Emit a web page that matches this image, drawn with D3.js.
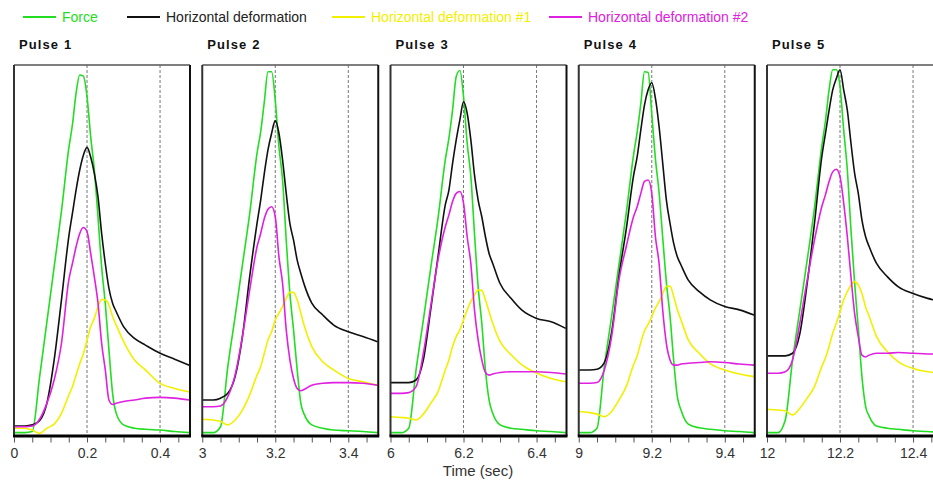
<!DOCTYPE html>
<html>
<head>
<meta charset="utf-8">
<script src="https://cdn.jsdelivr.net/npm/d3@7"></script>
<style>
  body { margin: 0; background: #fff; }
  svg { display: block; font-family: "Liberation Sans", Arial, sans-serif; }
  .legend text { font-size: 14px; }
  .pulse-title { font-size: 13px; font-weight: bold; letter-spacing: 1.1px; fill: #111; }
  .x-axis text { font-size: 14px; fill: #333; font-family: "Liberation Sans", Arial, sans-serif; }
  .x-axis line { stroke: #555; }
</style>
</head>
<body>
<svg id="chart"></svg>
<script>
//Chart Data (values in % of panel height, time in sec after pulse start)
const seriesNames = ["Force", "Horizontal deformation", "Horizontal deformation #1", "Horizontal deformation #2"];
const seriesColors = ["#22dd22", "#111111", "#f2f000", "#e020e0"];
const pulseNames = ["Pulse 1", "Pulse 2", "Pulse 3", "Pulse 4", "Pulse 5"];
const pulseStarts = [0, 3, 6, 9, 12];

const timeOffsets = [0, 0.03, 0.05, 0.07, 0.09, 0.11, 0.13, 0.15, 0.16, 0.17, 0.18, 0.19, 0.20, 0.21,
                     0.22, 0.23, 0.24, 0.25, 0.26, 0.27, 0.28, 0.30, 0.33, 0.36, 0.40, 0.44, 0.48];

const forceValues = [
  [0.9, 0.9, 1.2, 15.8, 30.7, 45.6, 60.6, 77.5, 83.9, 92.4, 97.3, 97.0, 91.5, 80.7, 71.7, 59.1, 45.6, 35.7, 23.2, 11.5, 6.1, 3.0, 2.1, 1.8, 1.6, 1.2, 0.9],
  [0.9, 0.9, 2.5, 18.7, 32.2, 46.1, 60.0, 76.2, 82.0, 90.1, 98.2, 98.2, 90.5, 77.9, 69.0, 52.8, 38.5, 28.6, 17.8, 8.8, 5.7, 3.0, 2.1, 1.6, 1.4, 1.2, 0.9],
  [0.9, 0.9, 2.1, 17.8, 31.3, 45.2, 58.6, 74.4, 80.3, 87.9, 96.9, 98.5, 91.5, 78.9, 70.0, 54.6, 40.2, 30.4, 17.8, 9.7, 6.1, 3.0, 2.1, 1.8, 1.4, 1.2, 0.9],
  [0.9, 0.9, 2.1, 18.7, 32.2, 46.1, 60.0, 75.7, 82.0, 89.6, 98.2, 98.0, 86.7, 74.7, 65.6, 53.4, 41.4, 32.3, 20.3, 10.6, 7.0, 3.2, 2.2, 1.8, 1.4, 1.2, 0.9],
  [0.9, 0.9, 4.3, 20.5, 34.0, 47.4, 61.5, 78.1, 84.9, 93.3, 98.7, 98.7, 94.2, 82.5, 71.7, 55.5, 41.2, 29.0, 16.0, 8.0, 5.3, 2.7, 2.1, 1.8, 1.4, 1.2, 0.9]
];

const hDefValues = [
  [2.7, 2.7, 3.0, 4.1, 8.8, 20.5, 36.7, 53.7, 60.0, 66.3, 71.7, 75.7, 77.8, 75.2, 70.8, 64.5, 54.6, 46.5, 39.8, 35.8, 33.5, 29.5, 26.3, 24.5, 22.3, 20.7, 19.1],
  [9.7, 9.7, 10.2, 11.5, 16.0, 26.8, 43.0, 57.3, 63.6, 70.8, 77.1, 81.6, 85.0, 81.6, 74.4, 65.4, 57.3, 52.8, 47.4, 43.8, 40.6, 35.8, 32.6, 29.9, 28.1, 26.8, 25.4],
  [14.4, 14.4, 14.4, 15.1, 20.5, 34.0, 48.3, 62.3, 66.3, 73.5, 79.8, 85.2, 90.1, 87.0, 79.8, 70.4, 63.6, 59.1, 53.7, 49.2, 46.5, 41.1, 37.1, 33.9, 31.7, 30.8, 29.0],
  [17.8, 17.8, 18.0, 19.8, 27.9, 43.1, 55.7, 70.1, 75.3, 82.5, 89.2, 93.3, 95.2, 91.0, 83.4, 73.5, 63.6, 57.3, 51.9, 48.3, 46.1, 42.0, 38.9, 36.7, 34.9, 34.0, 32.6],
  [21.6, 21.6, 21.6, 22.3, 27.6, 41.1, 57.3, 75.2, 81.5, 87.8, 93.3, 96.4, 98.7, 93.3, 87.8, 78.9, 70.8, 65.4, 58.2, 53.7, 51.0, 46.5, 42.9, 40.2, 38.4, 37.1, 36.2]
];

const hDef1Values = [
  [2.1, 2.1, 1.6, 0.7, 2.1, 3.2, 6.1, 11.0, 13.3, 16.4, 19.5, 22.2, 25.8, 29.5, 31.7, 34.8, 36.8, 36.7, 35.3, 32.2, 29.9, 25.5, 20.5, 17.8, 14.2, 12.8, 11.9],
  [4.5, 4.3, 3.9, 3.0, 4.3, 7.0, 11.1, 16.4, 18.7, 22.3, 25.9, 28.1, 31.3, 33.1, 34.9, 37.1, 38.7, 38.7, 36.7, 33.1, 29.5, 24.1, 20.0, 17.8, 15.5, 14.6, 13.7],
  [5.2, 5.0, 4.8, 4.3, 5.9, 8.8, 11.9, 17.8, 20.5, 24.1, 26.8, 28.6, 31.3, 34.0, 36.2, 38.0, 39.4, 39.2, 36.7, 33.5, 30.4, 25.5, 21.9, 19.2, 17.0, 15.5, 14.6],
  [6.6, 6.3, 5.9, 5.2, 6.6, 9.7, 13.3, 19.2, 21.6, 25.2, 28.3, 30.1, 32.2, 34.5, 36.2, 38.5, 40.3, 40.4, 37.6, 34.0, 31.3, 25.9, 22.3, 19.5, 17.8, 16.7, 16.0],
  [7.2, 7.0, 6.8, 5.7, 7.5, 10.2, 13.3, 18.7, 21.0, 24.1, 27.7, 30.4, 33.5, 36.7, 38.9, 40.7, 41.6, 40.7, 38.4, 34.8, 32.2, 26.8, 22.7, 20.0, 18.2, 17.3, 16.9]
];

const hDef2Values = [
  [2.5, 2.5, 2.7, 4.5, 8.8, 15.1, 25.0, 42.0, 46.5, 51.0, 54.6, 56.2, 55.1, 49.2, 42.9, 35.8, 25.0, 17.8, 9.7, 8.5, 8.8, 9.3, 9.7, 10.2, 10.4, 10.2, 9.7],
  [7.9, 7.9, 8.1, 10.6, 16.4, 26.8, 39.4, 51.0, 54.6, 58.6, 61.1, 61.8, 59.1, 48.3, 41.1, 28.6, 20.5, 15.5, 12.8, 12.2, 12.6, 13.7, 14.2, 14.4, 14.4, 14.2, 13.7],
  [11.5, 11.5, 11.7, 13.3, 22.3, 34.9, 47.4, 56.4, 59.6, 63.2, 65.4, 65.9, 62.8, 53.7, 46.5, 34.0, 25.9, 20.5, 17.1, 16.4, 16.7, 17.1, 17.3, 17.3, 17.3, 17.1, 16.7],
  [14.2, 14.2, 14.4, 17.8, 26.8, 42.0, 51.0, 59.1, 61.8, 65.4, 68.6, 69.0, 65.4, 53.7, 46.5, 33.9, 24.9, 20.5, 19.1, 19.1, 19.4, 19.6, 19.8, 20.0, 19.8, 19.4, 19.1],
  [16.9, 16.9, 17.3, 20.5, 30.4, 42.0, 52.8, 61.8, 65.0, 68.6, 71.2, 71.9, 69.9, 62.8, 53.7, 42.9, 33.0, 26.8, 21.8, 21.3, 21.8, 22.3, 22.3, 22.5, 22.3, 22.1, 22.1]
];

const seriesValues = [forceValues, hDefValues, hDef1Values, hDef2Values];

//Layout Setup
const w = 933;
const h = 481;
const plotTop = 65;
const plotBottom = 436;
const panelW = 176;
const panelSpan = 0.482; //seconds visible in each panel

const chart = d3.select("#chart")
  .attr("width", w)
  .attr("height", h);

//Scale Setup
const panelX = d3.scaleLinear()
                 .domain([0, pulseStarts.length - 1])
                 .range([14, 767]);
const yScale = d3.scaleLinear()
                 .domain([0, 100])
                 .range([plotBottom, plotTop]);

//Legend Setup
const legendX = [23, 127, 332, 549];
const legend = chart.append("g").attr("class", "legend");
seriesNames.forEach((name, i) => {
  legend.append("line")
        .attr("x1", legendX[i]).attr("x2", legendX[i] + 33)
        .attr("y1", 17).attr("y2", 17)
        .attr("stroke", seriesColors[i])
        .attr("stroke-width", 2);
  legend.append("text")
        .attr("x", legendX[i] + 39)
        .attr("y", 22)
        .attr("fill", seriesColors[i] === "#111111" ? "#222" : seriesColors[i])
        .text(name);
});

//Panels
pulseStarts.forEach((start, p) => {
  const left = panelX(p);
  const xScale = d3.scaleLinear()
                   .domain([start, start + panelSpan])
                   .range([left, left + panelW]);
  const g = chart.append("g");

  //Title
  g.append("text")
   .attr("class", "pulse-title")
   .attr("x", left + 5)
   .attr("y", 49)
   .text(pulseNames[p]);

  //Dashed grid at 0.2 and 0.4 sec
  g.selectAll(".grid")
   .data([start + 0.2, start + 0.4])
   .enter()
   .append("line")
   .attr("x1", (d) => xScale(d)).attr("x2", (d) => xScale(d))
   .attr("y1", plotTop).attr("y2", plotBottom)
   .attr("stroke", "#777")
   .attr("stroke-width", 1)
   .attr("stroke-dasharray", "3,2");

  //Series lines
  const line = d3.line()
                 .x((d) => xScale(start + d[0]))
                 .y((d) => yScale(d[1]))
                 .curve(d3.curveMonotoneX);
  seriesValues.forEach((vals, s) => {
    const pts = timeOffsets.map((t, k) => [t, vals[p][k]]);
    g.append("path")
     .datum(pts)
     .attr("d", line)
     .attr("fill", "none")
     .attr("stroke", seriesColors[s])
     .attr("stroke-width", 1.6)
     .attr("stroke-linejoin", "round");
  });

  //Frame
  g.append("line")
   .attr("x1", left).attr("x2", left + panelW)
   .attr("y1", plotTop).attr("y2", plotTop)
   .attr("stroke", "#555").attr("stroke-width", 1.5);
  g.append("line")
   .attr("x1", left).attr("x2", left)
   .attr("y1", plotTop).attr("y2", plotBottom)
   .attr("stroke", "#333").attr("stroke-width", 2);
  g.append("line")
   .attr("x1", left + panelW).attr("x2", left + panelW)
   .attr("y1", plotTop).attr("y2", plotBottom)
   .attr("stroke", "#111").attr("stroke-width", 2);

  //Axis
  const tickVals = d3.range(0, 10).map((k) => start + k * 0.05);
  const xAxis = d3.axisBottom(xScale)
                  .tickValues(tickVals)
                  .tickSize(5)
                  .tickPadding(6)
                  .tickFormat((d, k) => k % 4 === 0 ? String(+d.toFixed(2)) : "");
  const ax = g.append("g")
              .attr("class", "x-axis")
              .attr("transform", "translate(0, " + (plotBottom + 1.5) + ")")
              .call(xAxis);
  ax.select(".domain").remove();

  g.append("line")
   .attr("x1", left - 1).attr("x2", left + panelW + 1)
   .attr("y1", plotBottom).attr("y2", plotBottom)
   .attr("stroke", "#000").attr("stroke-width", 3);
});

//Axis Label
chart.append("text")
     .attr("x", 478)
     .attr("y", 476)
     .attr("text-anchor", "middle")
     .attr("font-size", "15px")
     .attr("fill", "#333")
     .text("Time (sec)");
</script>
</body>
</html>
